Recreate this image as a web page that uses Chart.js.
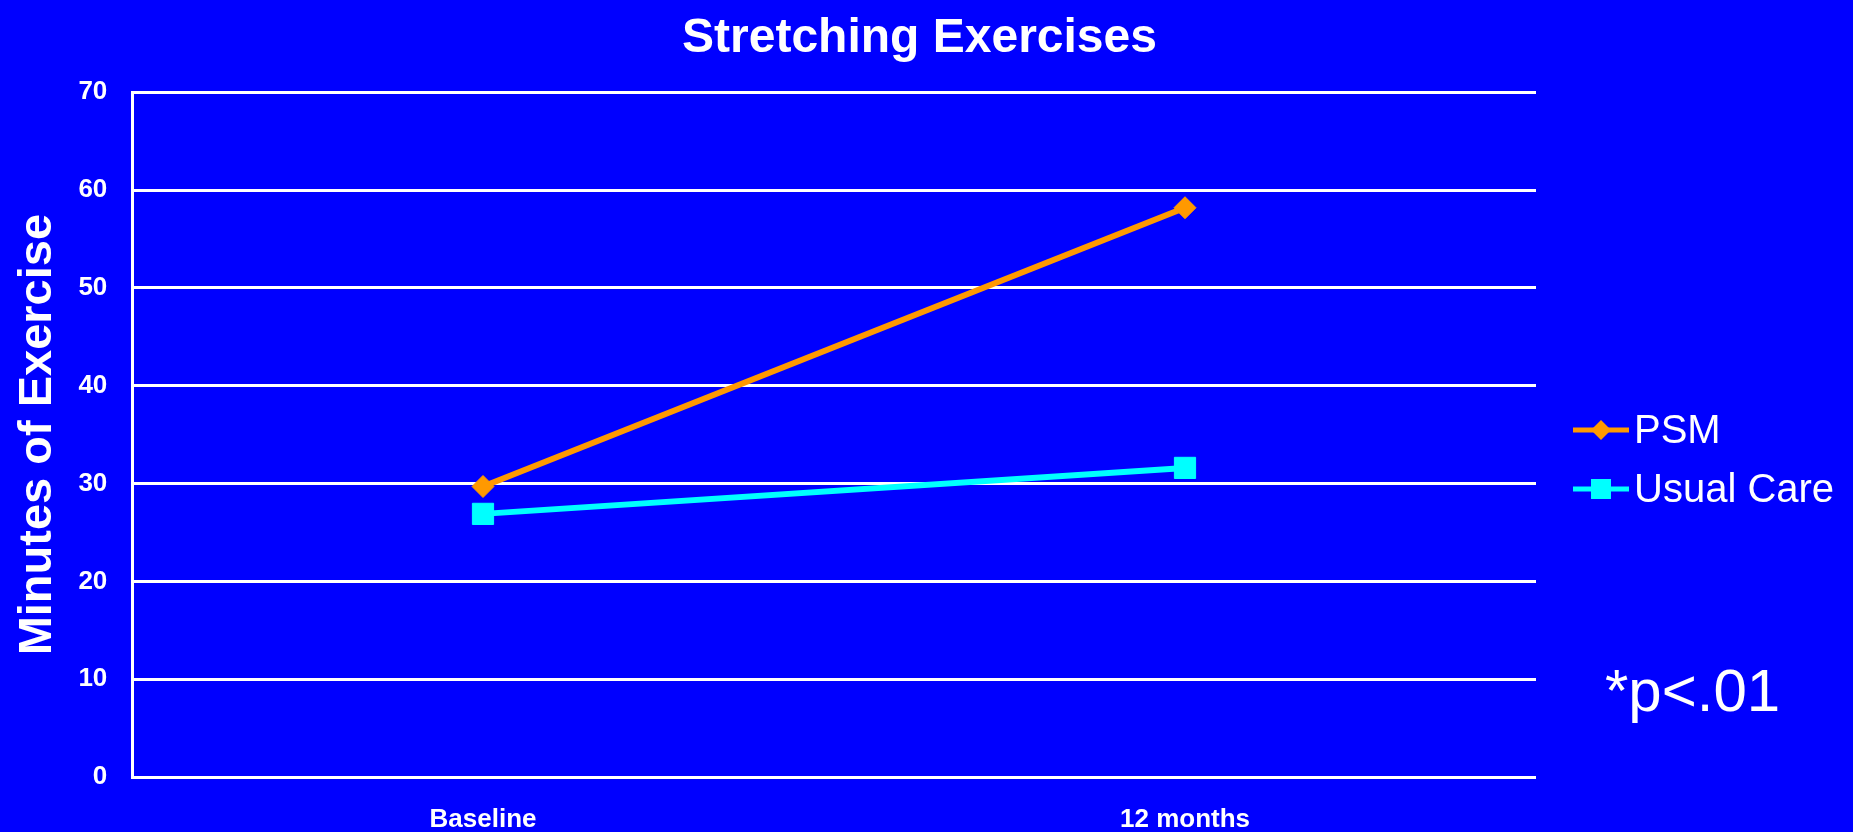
<!DOCTYPE html>
<html>
<head>
<meta charset="utf-8">
<title>Stretching Exercises</title>
<script src="https://cdn.jsdelivr.net/npm/chart.js@4.4.1/dist/chart.umd.min.js"></script>
<style>
  html, body { margin: 0; padding: 0; background: #0000FF; overflow: hidden; }
  #wrap { position: relative; width: 1853px; height: 832px; }
</style>
</head>
<body>
<div id="wrap"><canvas id="chart"></canvas></div>
<script>
// Chart data
const categories = ['Baseline', '12 months'];
const psmMinutes = [29.7, 58.2];
const usualCareMinutes = [26.9, 31.6];
const seriesNames = ['PSM', 'Usual Care'];
const yTicks = [0, 10, 20, 30, 40, 50, 60, 70];
const chartTitle = 'Stretching Exercises';
const yAxisTitle = 'Minutes of Exercise';
const significanceNote = '*p<.01';

const FONT = '"Liberation Sans", Arial, Helvetica, sans-serif';
const WHITE = '#FFFFFF';
const SLIDE_BLUE = '#0000FF';
const ORANGE = '#FF9900';
const CYAN = '#00FFFF';

// Solid slide-blue backdrop behind everything
const backgroundPlugin = {
  id: 'slideBackground',
  beforeDraw(chart) {
    const { ctx, width, height } = chart;
    ctx.save();
    ctx.fillStyle = SLIDE_BLUE;
    ctx.fillRect(0, 0, width, height);
    ctx.restore();
  }
};

// Legend to the right of the plot (line with marker + label), plus the significance note
const sideLegendPlugin = {
  id: 'sideLegend',
  afterDraw(chart) {
    const ctx = chart.ctx;
    const lineX0 = 1573, lineX1 = 1629, markerX = 1601, textX = 1634;
    const baselines = [443, 502];
    ctx.save();
    chart.data.datasets.forEach((ds, i) => {
      const by = baselines[i];
      const cy = by - 13;
      ctx.strokeStyle = ds.borderColor;
      ctx.lineWidth = 5;
      ctx.beginPath();
      ctx.moveTo(lineX0, cy);
      ctx.lineTo(lineX1, cy);
      ctx.stroke();
      ctx.fillStyle = ds.pointBackgroundColor;
      ctx.beginPath();
      if (ds.pointStyle === 'rectRot') {
        const r = 10;
        ctx.moveTo(markerX - r, cy);
        ctx.lineTo(markerX, cy - r);
        ctx.lineTo(markerX + r, cy);
        ctx.lineTo(markerX, cy + r);
      } else {
        const h = 10;
        ctx.rect(markerX - h, cy - h, 2 * h, 2 * h);
      }
      ctx.closePath();
      ctx.fill();
      ctx.fillStyle = WHITE;
      ctx.font = '40px ' + FONT;
      ctx.textBaseline = 'alphabetic';
      ctx.textAlign = 'left';
      ctx.fillText(ds.label, textX, by);
    });
    ctx.font = '60px ' + FONT;
    ctx.fillStyle = WHITE;
    ctx.fillText(significanceNote, 1605, 711);
    ctx.restore();
  }
};

new Chart(document.getElementById('chart'), {
  type: 'line',
  data: {
    labels: categories,
    datasets: [
      {
        label: seriesNames[0],
        data: psmMinutes,
        borderColor: ORANGE,
        backgroundColor: ORANGE,
        borderWidth: 6,
        tension: 0,
        pointStyle: 'rectRot',
        pointRadius: 11,
        pointBorderWidth: 1,
        pointBackgroundColor: ORANGE,
        pointBorderColor: ORANGE
      },
      {
        label: seriesNames[1],
        data: usualCareMinutes,
        borderColor: CYAN,
        backgroundColor: CYAN,
        borderWidth: 6,
        tension: 0,
        pointStyle: 'rect',
        pointRadius: 15,
        pointBorderWidth: 1,
        pointBackgroundColor: CYAN,
        pointBorderColor: CYAN
      }
    ]
  },
  options: {
    responsive: true,
    maintainAspectRatio: false,
    animation: false,
    layout: { padding: { left: 6, right: 20, top: 0, bottom: 0 } },
    plugins: {
      legend: { display: false },
      tooltip: { enabled: false },
      title: {
        display: true,
        text: chartTitle,
        color: WHITE,
        font: { family: FONT, size: 48, weight: 'bold', lineHeight: 1.2 },
        padding: { top: 10, bottom: 24.7 }
      }
    },
    scales: {
      x: {
        type: 'category',
        offset: true,
        grid: { display: false, drawTicks: false },
        border: { display: false },
        ticks: {
          color: WHITE,
          font: { family: FONT, size: 26, weight: 'bold', lineHeight: 0.93 },
          padding: 30.8,
          maxRotation: 0,
          autoSkip: false
        },
        afterFit: scale => { scale.height = 55; }
      },
      y: {
        min: 0,
        max: 70,
        afterBuildTicks: scale => { scale.ticks = yTicks.map(v => ({ value: v })); },
        grid: { color: WHITE, lineWidth: 3, drawTicks: false },
        border: { display: true, color: WHITE, width: 3 },
        ticks: {
          color: WHITE,
          font: { family: FONT, size: 26, weight: 'bold' },
          padding: 24.7
        },
        title: {
          display: true,
          text: yAxisTitle,
          color: WHITE,
          font: { family: FONT, size: 47, weight: 'bold', lineHeight: 1.2 },
          padding: { top: 4, bottom: 12 }
        },
        afterFit: scale => { scale.width = 126; }
      },
      legendSpace: {
        type: 'linear',
        position: 'right',
        display: true,
        grid: { display: false, drawTicks: false },
        border: { display: false },
        ticks: { display: false },
        afterFit: scale => { scale.width = 297; }
      }
    }
  },
  plugins: [backgroundPlugin, sideLegendPlugin]
});
</script>
</body>
</html>
